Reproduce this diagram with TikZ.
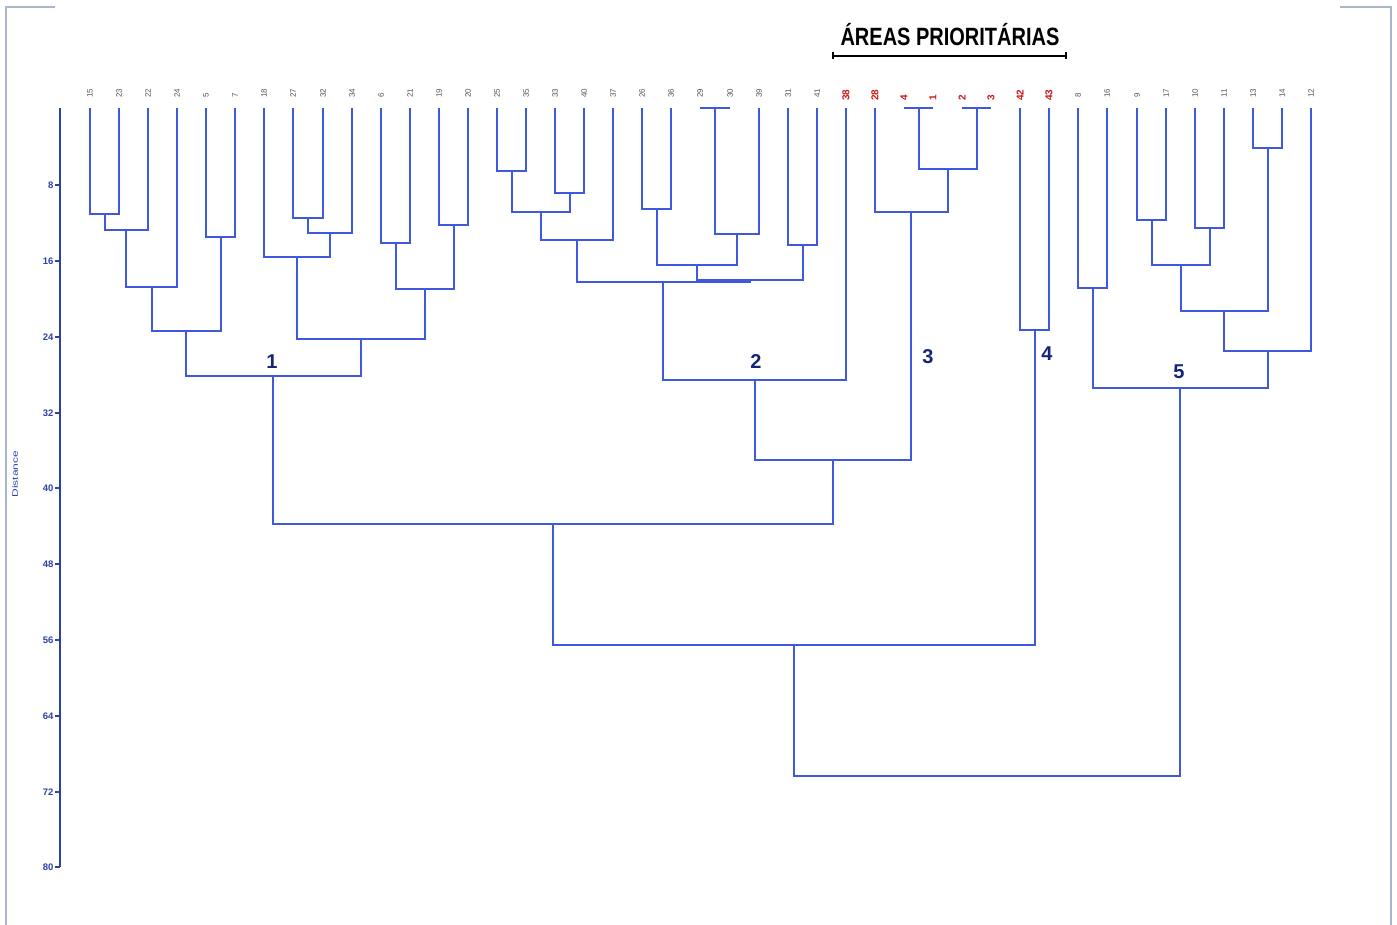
\documentclass[tikz,border=0pt]{standalone}
\usepackage{fontspec}
\setmainfont{Liberation Sans}

\definecolor{treeblue}{RGB}{62,88,222}
\definecolor{axisblue}{RGB}{45,65,165}
\definecolor{navy}{RGB}{22,36,120}
\definecolor{prired}{RGB}{200,22,22}
\definecolor{leafgray}{RGB}{85,85,85}
\definecolor{framegray}{RGB}{170,182,202}

\tikzset{
  branch/.style={treeblue, line width=2pt},
  leaf/.style={rotate=90, anchor=west, inner sep=0pt, xshift=10pt,
    font=\fontsize{8}{8}\selectfont, text=leafgray},
  prio/.style={leaf, xshift=-3pt, font=\fontsize{10}{10}\selectfont\bfseries, text=prired},
  group/.style={inner sep=0pt, font=\fontsize{20}{20}\selectfont\bfseries, text=navy},
  tick/.style={anchor=east, inner sep=1pt, font=\fontsize{9.5}{9.5}\selectfont\bfseries, text=axisblue},
}

\begin{document}
\begin{tikzpicture}[x=1pt,y=-1pt]
  \useasboundingbox (0,0) rectangle (1397,925);

  % frame
  \draw[framegray, line width=1.5pt] (55,7) -- (6,7) -- (6,925);
  \draw[framegray, line width=1.5pt] (1340,7) -- (1391,7) -- (1391,925);

  % title
  \node[font=\fontsize{25}{25}\selectfont\bfseries] (title) at (950,35)
    {\scalebox{0.8}[1]{ÁREAS PRIORITÁRIAS}};
  \coordinate (bl) at (833,56);
  \coordinate (br) at (1066,56);
  \draw[line width=2.2pt] (bl) -- (br);
  \draw[line width=1.4pt] ([yshift=3.5pt]bl) -- ([yshift=-3.5pt]bl);
  \draw[line width=1.4pt] ([yshift=3.5pt]br) -- ([yshift=-3.5pt]br);

  % axis
  \coordinate (ax0) at (60,108);
  \coordinate (ax80) at (60,867);
  \draw[axisblue, line width=1.6pt] (ax0) -- (ax80);
  \begin{scope}[axisblue, line width=1.2pt]
    \draw (60,185) -- ++(-5,0) node[tick] (d8) {8};
    \draw (60,261) -- ++(-5,0) node[tick] (d16) {16};
    \draw (60,337) -- ++(-5,0) node[tick] (d24) {24};
    \draw (60,413) -- ++(-5,0) node[tick] (d32) {32};
    \draw (60,488) -- ++(-5,0) node[tick] (d40) {40};
    \draw (60,564) -- ++(-5,0) node[tick] (d48) {48};
    \draw (60,640) -- ++(-5,0) node[tick] (d56) {56};
    \draw (60,716) -- ++(-5,0) node[tick] (d64) {64};
    \draw (60,792) -- ++(-5,0) node[tick] (d72) {72};
    \draw (60,867) -- ++(-5,0) node[tick] (d80) {80};
  \end{scope}
  \node[rotate=90, text=axisblue, font=\fontsize{8}{8}\selectfont] (dist) at (15,474)
    {\scalebox{1.5}[1]{Distance}};

  % leaves
  \coordinate (15) at (90,108);
  \coordinate (23) at (119,108);
  \coordinate (22) at (148,108);
  \coordinate (24) at (177,108);
  \coordinate (5)  at (206,108);
  \coordinate (7)  at (235,108);
  \coordinate (18) at (264,108);
  \coordinate (27) at (293,108);
  \coordinate (32) at (323,108);
  \coordinate (34) at (352,108);
  \coordinate (6)  at (381,108);
  \coordinate (21) at (410,108);
  \coordinate (19) at (439,108);
  \coordinate (20) at (468,108);
  \coordinate (25) at (497,108);
  \coordinate (35) at (526,108);
  \coordinate (33) at (555,108);
  \coordinate (40) at (584,108);
  \coordinate (37) at (613,108);
  \coordinate (26) at (642,108);
  \coordinate (36) at (671,108);
  \coordinate (29) at (700,108);
  \coordinate (30) at (730,108);
  \coordinate (39) at (759,108);
  \coordinate (31) at (788,108);
  \coordinate (41) at (817,108);
  \coordinate (38) at (846,108);
  \coordinate (28) at (875,108);
  \coordinate (4)  at (904,108);
  \coordinate (1)  at (933,108);
  \coordinate (2)  at (962,108);
  \coordinate (3)  at (991,108);
  \coordinate (42) at (1020,108);
  \coordinate (43) at (1049,108);
  \coordinate (8)  at (1078,108);
  \coordinate (16) at (1107,108);
  \coordinate (9)  at (1137,108);
  \coordinate (17) at (1166,108);
  \coordinate (10) at (1195,108);
  \coordinate (11) at (1224,108);
  \coordinate (13) at (1253,108);
  \coordinate (14) at (1282,108);
  \coordinate (12) at (1311,108);

  \begin{scope}[every node/.style={leaf}]
    \node (t15) at (15) {15};
    \node (t23) at (23) {23};
    \node (t22) at (22) {22};
    \node (t24) at (24) {24};
    \node (t5)  at (5)  {5};
    \node (t7)  at (7)  {7};
    \node (t18) at (18) {18};
    \node (t27) at (27) {27};
    \node (t32) at (32) {32};
    \node (t34) at (34) {34};
    \node (t6)  at (6)  {6};
    \node (t21) at (21) {21};
    \node (t19) at (19) {19};
    \node (t20) at (20) {20};
    \node (t25) at (25) {25};
    \node (t35) at (35) {35};
    \node (t33) at (33) {33};
    \node (t40) at (40) {40};
    \node (t37) at (37) {37};
    \node (t26) at (26) {26};
    \node (t36) at (36) {36};
    \node (t29) at (29) {29};
    \node (t30) at (30) {30};
    \node (t39) at (39) {39};
    \node (t31) at (31) {31};
    \node (t41) at (41) {41};
    \node (t8)  at (8)  {8};
    \node (t16) at (16) {16};
    \node (t9)  at (9)  {9};
    \node (t17) at (17) {17};
    \node (t10) at (10) {10};
    \node (t11) at (11) {11};
    \node (t13) at (13) {13};
    \node (t14) at (14) {14};
    \node (t12) at (12) {12};
  \end{scope}

  \begin{scope}[every node/.style={prio}]
    \node (t38) at (38) {38};
    \node (t28) at (28) {28};
    \node (t4)  at (4)  {4};
    \node (t1)  at (1)  {1};
    \node (t2)  at (2)  {2};
    \node (t3)  at (3)  {3};
    \node (t42) at (42) {42};
    \node (t43) at (43) {43};
  \end{scope}

  % merge points
  \coordinate (m1)  at (105,214);
  \coordinate (m2)  at (126,230);
  \coordinate (m3)  at (152,287);
  \coordinate (m4)  at (221,237);
  \coordinate (m5)  at (186,331);
  \coordinate (m6)  at (308,218);
  \coordinate (m7)  at (330,233);
  \coordinate (m8)  at (297,257);
  \coordinate (m9)  at (396,243);
  \coordinate (m10) at (454,225);
  \coordinate (m11) at (425,289);
  \coordinate (m12) at (361,339);
  \coordinate (g1)  at (273,376);

  \coordinate (m13) at (512,171);
  \coordinate (m14) at (570,193);
  \coordinate (m15) at (541,212);
  \coordinate (m16) at (577,240);
  \coordinate (m17) at (657,209);
  \coordinate (m18) at (715,108);
  \coordinate (m19) at (737,234);
  \coordinate (m20) at (697,265);
  \coordinate (m21) at (803,245);
  \coordinate (m22) at (750,280);
  \coordinate (m23) at (663,282);
  \coordinate (g2)  at (755,380);

  \coordinate (m24) at (919,108);
  \coordinate (m25) at (977,108);
  \coordinate (m26) at (948,169);
  \coordinate (g3)  at (911,212);
  \coordinate (g23) at (833,460);

  \coordinate (g4)  at (1035,330);

  \coordinate (m27) at (1093,288);
  \coordinate (m28) at (1152,220);
  \coordinate (m29) at (1210,228);
  \coordinate (m30) at (1181,265);
  \coordinate (m31) at (1268,148);
  \coordinate (m32) at (1224,311);
  \coordinate (m33) at (1268,351);
  \coordinate (g5)  at (1180,388);

  \coordinate (r1)  at (553,524);
  \coordinate (r2)  at (794,645);
  \coordinate (r3)  at (987,776);

  \begin{scope}[branch]
    % group 1
    \draw (15) |- (m1) -| (23);
    \draw (m1) |- (m2) -| (22);
    \draw (m2) |- (m3) -| (24);
    \draw (5) |- (m4) -| (7);
    \draw (m3) |- (m5) -| (m4);
    \draw (27) |- (m6) -| (32);
    \draw (m6) |- (m7) -| (34);
    \draw (18) |- (m8) -| (m7);
    \draw (6) |- (m9) -| (21);
    \draw (19) |- (m10) -| (20);
    \draw (m9) |- (m11) -| (m10);
    \draw (m8) |- (m12) -| (m11);
    \draw (m5) |- (g1) -| (m12);

    % group 2
    \draw (25) |- (m13) -| (35);
    \draw (33) |- (m14) -| (40);
    \draw (m13) |- (m15) -| (m14);
    \draw (m15) |- (m16) -| (37);
    \draw (26) |- (m17) -| (36);
    \draw (29) |- (m18) -| (30);
    \draw (m18) |- (m19) -| (39);
    \draw (m17) |- (m20) -| (m19);
    \draw (31) |- (m21) -| (41);
    \draw (m20) |- (m22) -| (m21);
    \draw (m16) |- (m23) -| (m22);
    \draw (m23) |- (g2) -| (38);

    % group 3
    \draw (4) |- (m24) -| (1);
    \draw (2) |- (m25) -| (3);
    \draw (m24) |- (m26) -| (m25);
    \draw (28) |- (g3) -| (m26);
    \draw (g2) |- (g23) -| (g3);

    % group 4
    \draw (42) |- (g4) -| (43);

    % group 5
    \draw (8) |- (m27) -| (16);
    \draw (9) |- (m28) -| (17);
    \draw (10) |- (m29) -| (11);
    \draw (m28) |- (m30) -| (m29);
    \draw (13) |- (m31) -| (14);
    \draw (m30) |- (m32) -| (m31);
    \draw (m32) |- (m33) -| (12);
    \draw (m27) |- (g5) -| (m33);

    % upper joins
    \draw (g1) |- (r1) -| (g23);
    \draw (r1) |- (r2) -| (g4);
    \draw (r2) |- (r3) -| (g5);
  \end{scope}

  \begin{scope}[every node/.style={group}]
    \node (n1) at (272,362) {1};
    \node (n2) at (756,362) {2};
    \node (n3) at (928,357) {3};
    \node (n4) at (1047,354) {4};
    \node (n5) at (1179,372) {5};
  \end{scope}

\end{tikzpicture}
\end{document}
